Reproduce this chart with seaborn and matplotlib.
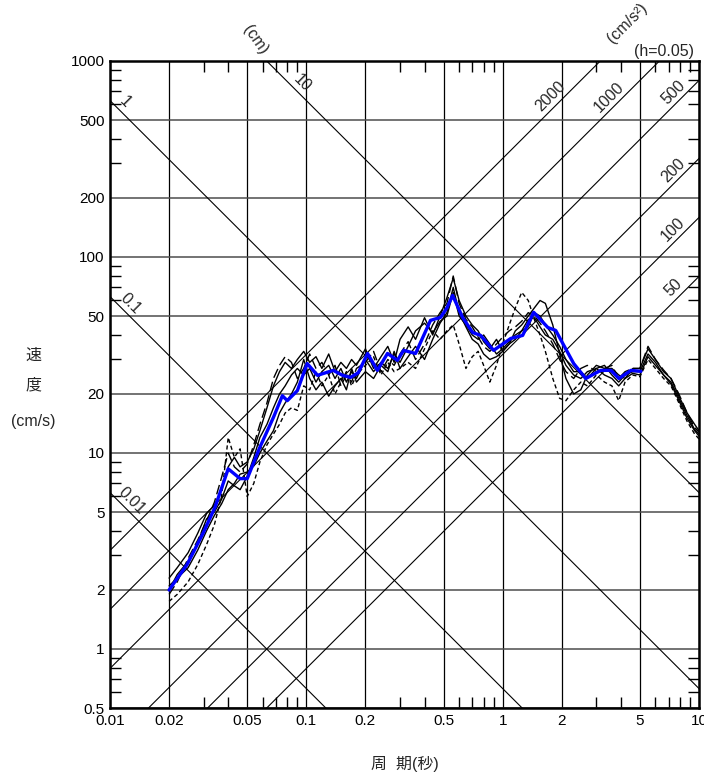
import numpy as np
import pandas as pd
import matplotlib
matplotlib.use("Agg")
import matplotlib.pyplot as plt
from matplotlib.ticker import LogLocator, NullFormatter, FixedLocator, FixedFormatter
import seaborn as sns

# period grid (s) shared by the recorded spectra
period = [0.02, 0.022, 0.025, 0.028, 0.031, 0.034, 0.037, 0.04, 0.043, 0.046,
          0.05, 0.054, 0.058, 0.063, 0.068, 0.073, 0.078, 0.084, 0.09, 0.097,
          0.104, 0.112, 0.12, 0.13, 0.14, 0.15, 0.16, 0.17, 0.18, 0.2,
          0.22, 0.24, 0.26, 0.28, 0.3, 0.33, 0.36, 0.4, 0.44, 0.48,
          0.52, 0.56, 0.6, 0.65, 0.7, 0.75, 0.8, 0.86, 0.93, 1.0,
          1.08, 1.16, 1.25, 1.35, 1.45, 1.55, 1.65, 1.8, 1.95, 2.1,
          2.3, 2.5, 2.7, 3.0, 3.3, 3.6, 3.9, 4.2, 4.6, 5.0,
          5.5, 6.0, 6.6, 7.2, 7.9, 8.7, 9.5, 10.0]

sv_a = [2.3, 2.6, 3.1, 3.9, 4.9, 5.4, 6.5, 8.5, 9.5, 8.5,
        9.0, 10.5, 13, 17, 22, 26, 29, 27, 30, 33,
        29, 31, 27, 32, 26, 29, 27, 30, 28, 34,
        27, 31, 35, 29, 38, 44, 38, 49, 40, 50,
        62, 78, 60, 50, 45, 42, 37, 34, 38, 33,
        36, 42, 45, 50, 55, 60, 58, 45, 32, 24,
        20, 21, 25, 28, 27, 27, 25, 24, 27, 27,
        34, 30, 26, 24, 19.5, 16, 14, 13]
sv_b = [2.1, 2.3, 2.6, 3.2, 4.0, 4.8, 5.5, 6.5, 7.0, 7.8,
        8.0, 8.6, 10, 11.5, 13, 16, 18, 20, 23, 30,
        24, 21, 23, 19.5, 22, 24, 21, 27, 23, 26,
        24, 28, 26, 33, 27, 31, 35, 30, 38, 46,
        52, 70, 52, 44, 38, 36, 32, 30, 31, 33,
        36, 38, 42, 48, 49, 44, 40, 38, 33, 28,
        25, 24, 26, 27, 25, 24, 22, 24, 25.5, 25,
        31, 28, 25, 22.5, 18.5, 15, 13, 12.2]
sv_c = [1.75, 1.9, 2.2, 2.7, 3.4, 4.3, 6.0, 12, 9.5, 10.5,
        6.0, 7.0, 9.0, 11, 12.5, 14, 16, 17, 16.5, 22,
        21, 26, 22, 25, 20, 23, 26, 22, 25, 28,
        31, 25, 29, 26, 27, 29, 27, 34, 42, 38,
        42, 45, 36, 27, 31, 33, 28, 23, 28, 36,
        45, 55, 66, 60, 48, 40, 33, 24, 19, 18.5,
        21, 23, 22, 25, 23, 22, 18.5, 23, 25, 24.5,
        30, 27, 24, 22, 18, 14.5, 12.5, 11.8]
sv_d = [1.9, 2.2, 2.9, 3.6, 4.5, 5.6, 7.5, 10, 8.5, 8.0,
        8.8, 11, 14, 18, 24, 28, 31, 29, 24, 27,
        32, 27, 29, 25, 28, 22, 25, 23, 27, 29,
        33, 26, 30, 28, 32, 37, 30, 36, 45, 52,
        58, 80, 58, 48, 44, 39, 35, 33, 36, 39,
        42, 44, 47, 52, 50, 46, 42, 36, 30, 26,
        24, 27, 28, 26, 27, 28, 24, 26, 27, 27,
        35, 30, 26.5, 24, 20, 16, 13.5, 12.8]
sv_e = [2.0, 2.4, 2.8, 3.5, 4.6, 5.0, 5.8, 7.2, 6.8, 6.5,
        7.6, 9.5, 12, 14, 17, 20, 22, 25, 27, 25,
        27, 23, 26, 28, 24, 27, 23, 26, 24, 30,
        26, 29, 27, 32, 29, 35, 42, 46, 41, 47,
        50, 66, 50, 45, 40, 38, 40, 36, 32, 34,
        37, 40, 42, 44, 52, 50, 45, 40, 35, 30,
        26, 26, 24, 27, 28, 25, 23, 25, 26, 26,
        32, 29, 25, 23, 19, 15.5, 13.2, 12.5]

# mean spectrum (blue)
mean_period = [0.02, 0.0247, 0.0298, 0.0343, 0.04, 0.046, 0.05, 0.058, 0.068, 0.0755,
               0.08, 0.09, 0.101, 0.114, 0.137, 0.153, 0.168, 0.184, 0.205, 0.23,
               0.259, 0.291, 0.313, 0.36, 0.429, 0.483, 0.52, 0.556, 0.625, 0.703,
               0.772, 0.899, 1.099, 1.264, 1.439, 1.698, 1.863, 2.3, 2.65, 3.16,
               3.56, 3.91, 4.5, 5.06]
mean_sv = [2.0, 2.7, 3.9, 5.3, 8.3, 7.4, 7.4, 10.7, 15.2, 19.6,
           18.5, 20.8, 28.6, 24.9, 26.4, 24.9, 24.3, 25.7, 32.2, 26.4,
           32.2, 29.7, 33.4, 32.2, 47.5, 49.2, 55.0, 63.7, 49.2, 41.2,
           39.8, 33.4, 38.4, 39.8, 52.2, 43.7, 42.2, 28.6, 24.0, 26.4,
           26.4, 24.0, 26.4, 26.1]

disp_levels = [0.01, 0.1, 1, 10]            # cm
acc_levels = [50, 100, 200, 500, 1000, 2000]  # cm/s2
acc_label_period = {2000: 1.76, 1000: 3.47, 500: 7.4, 200: 7.4, 100: 7.4, 50: 7.4}

x_ticks = [0.01, 0.02, 0.05, 0.1, 0.2, 0.5, 1, 2, 5, 10]
x_labels = ["0.01", "0.02", "0.05", "0.1", "0.2", "0.5", "1", "2", "5", "10"]
y_ticks = [0.5, 1, 2, 5, 10, 20, 50, 100, 200, 500, 1000]
y_labels = ["0.5", "1", "2", "5", "10", "20", "50", "100", "200", "500", "1000"]

sns.set_style("ticks")
plt.rcParams["font.family"] = ["Liberation Sans", "Noto Sans CJK JP", "DejaVu Sans"]
plt.rcParams["font.size"] = 11

fig = plt.figure(figsize=(7.04, 7.76), dpi=100)
ax = fig.add_axes([110 / 704, 1 - 708 / 776, 589 / 704, 647 / 776])
ax.set_xscale("log")
ax.set_yscale("log")
ax.set_xlim(0.01, 10)
ax.set_ylim(0.5, 1000)

# grid
ax.xaxis.set_major_locator(FixedLocator(x_ticks))
ax.xaxis.set_major_formatter(FixedFormatter(x_labels))
ax.yaxis.set_major_locator(FixedLocator(y_ticks))
ax.yaxis.set_major_formatter(FixedFormatter(y_labels))
ax.xaxis.set_minor_locator(LogLocator(base=10, subs=[3, 4, 6, 7, 8, 9]))
ax.yaxis.set_minor_locator(LogLocator(base=10, subs=[3, 4, 6, 7, 8, 9]))
ax.xaxis.set_minor_formatter(NullFormatter())
ax.yaxis.set_minor_formatter(NullFormatter())
ax.grid(True, which="major", axis="x", color="black", lw=0.9)
ax.grid(True, which="major", axis="y", color="0.3", lw=1.1)
ax.tick_params(which="both", direction="in", top=True, right=True, width=1.0,
               colors="black", labelsize=11, pad=4)
ax.tick_params(which="major", length=0)
ax.tick_params(which="minor", length=8)
for s in ax.spines.values():
    s.set_linewidth(1.8)
    s.set_color("black")

# tripartite lines
tt = np.logspace(-2.2, 1.2, 50)
w = 2 * np.pi
for d in disp_levels:
    ax.plot(tt, w * d / tt, color="black", lw=0.8)
for a in acc_levels:
    ax.plot(tt, a * tt / w, color="black", lw=0.8)

lab_kw = dict(fontsize=11.5, ha="center", va="center", rotation_mode="anchor")
disp_label_period = {0.01: 0.0129, 0.1: 0.01265, 1: 0.0119, 10: 0.095}
for d in disp_levels:
    tl = disp_label_period[d]
    ax.text(tl, w * d / tl * 1.17, f"{d:g}", rotation=-45, **lab_kw)
for a in acc_levels:
    tl = acc_label_period[a]
    ax.text(tl, a * tl / w * 1.18, f"{a}", rotation=45, **lab_kw)

ax.text(0.055, 1280, "(cm)", rotation=-55, clip_on=False, **lab_kw)
ax.text(4.3, 1560, "(cm/s²)", rotation=45, clip_on=False, **lab_kw)
ax.text(6.62, 1112, "(h=0.05)", clip_on=False, **lab_kw)

# recorded spectra
cases = {"A": sv_a, "B": sv_b, "C": sv_c, "D": sv_d, "E": sv_e}
df = pd.concat([pd.DataFrame({"T": period, "Sv": v, "case": k}) for k, v in cases.items()],
               ignore_index=True)
sns.lineplot(data=df, x="T", y="Sv", style="case", color="black", lw=1.0,
             dashes={"A": "", "B": "", "C": (3, 2), "D": (7, 3), "E": ""},
             estimator=None, legend=False, ax=ax)
sns.lineplot(x=mean_period, y=mean_sv, color="#0000ff", lw=2.4, ax=ax)

ax.set_xlabel("")
ax.set_ylabel("")

fig.text(33 / 704, 1 - 355 / 776, "速", ha="center", va="center", fontsize=11.5)
fig.text(33 / 704, 1 - 385 / 776, "度", ha="center", va="center", fontsize=11.5)
fig.text(33 / 704, 1 - 422 / 776, "(cm/s)", ha="center", va="center", fontsize=11.5)
fig.text(405 / 704, 1 - 764 / 776, "周  期(秒)", ha="center", va="center", fontsize=11.5)

fig.savefig("out.png", dpi=100)
